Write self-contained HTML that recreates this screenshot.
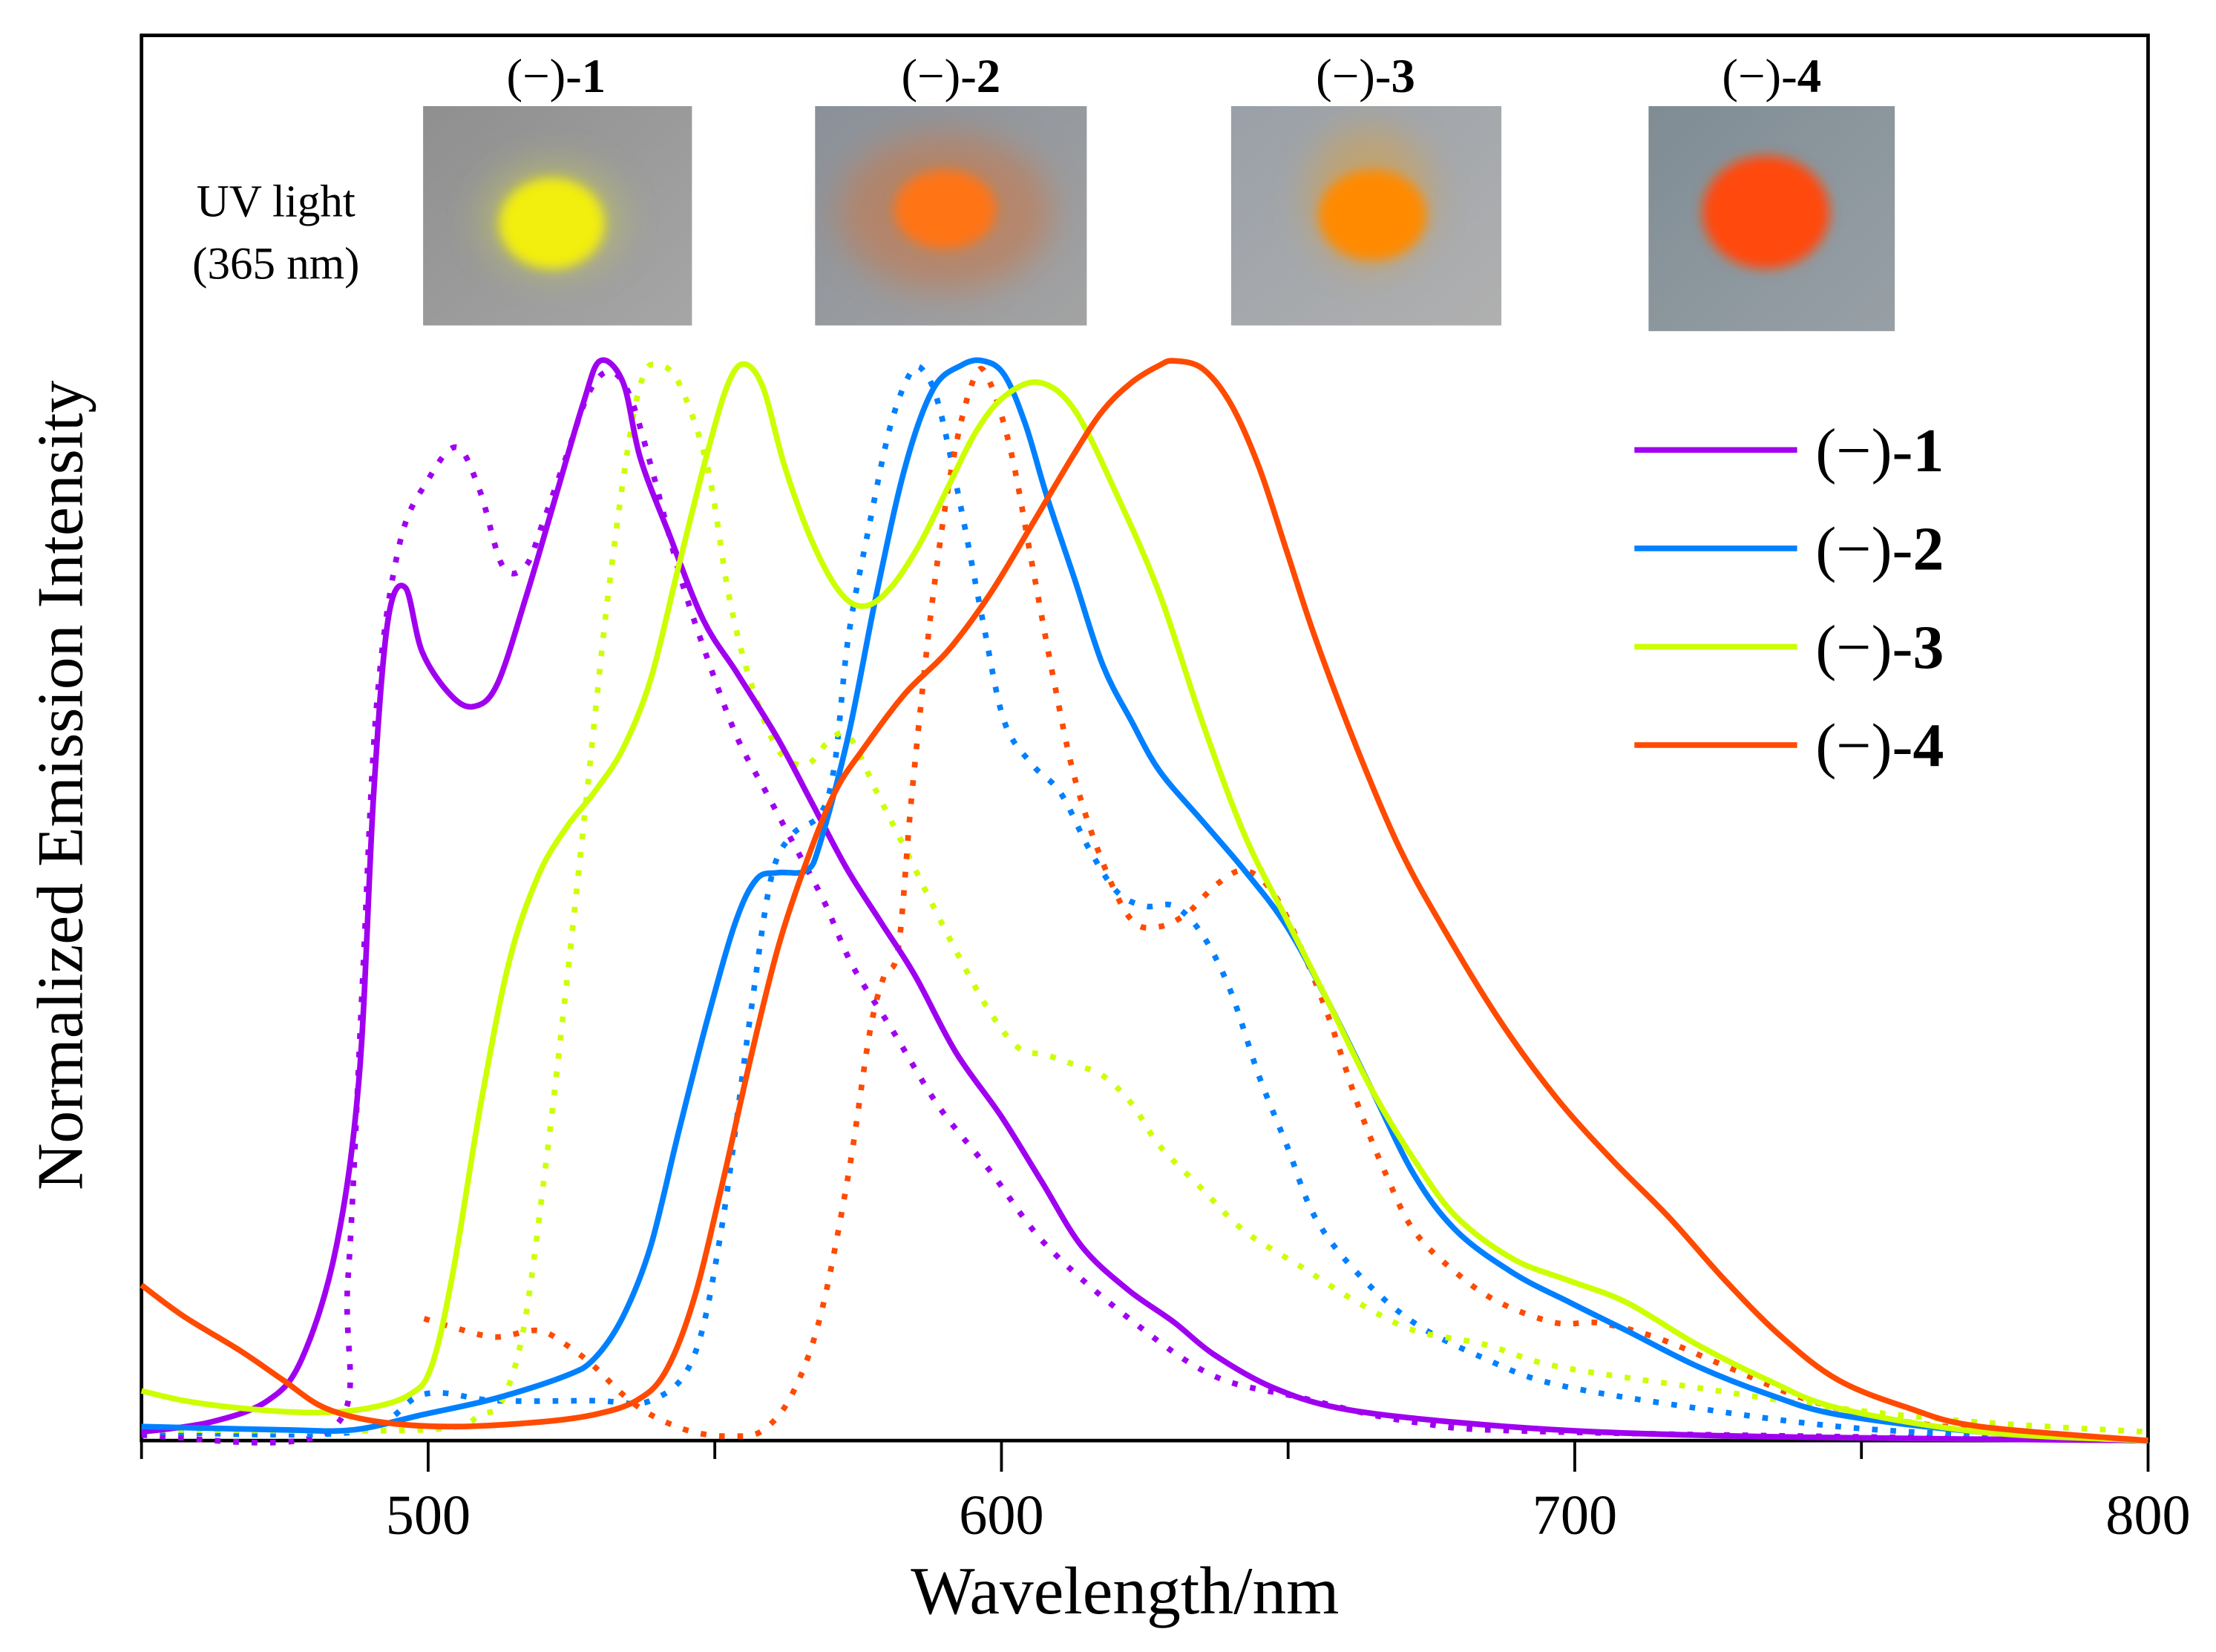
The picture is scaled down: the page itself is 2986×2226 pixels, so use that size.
<!DOCTYPE html>
<html><head><meta charset="utf-8"><style>
html,body{margin:0;padding:0;background:#fff;}
svg{display:block;}
text{font-family:"Liberation Serif",serif;fill:#000;}
</style></head><body>
<svg id="chart" width="2986" height="2226" viewBox="0 0 1566 1167.4" preserveAspectRatio="none" xmlns="http://www.w3.org/2000/svg">
<defs>
<linearGradient id="g1" x1="0" y1="0" x2="1" y2="1"><stop offset="0" stop-color="#8f8f8f"/><stop offset="1" stop-color="#a6a6a6"/></linearGradient>
<linearGradient id="g2" x1="0" y1="0" x2="1" y2="1"><stop offset="0" stop-color="#8a9099"/><stop offset="1" stop-color="#a3a3a3"/></linearGradient>
<linearGradient id="g3" x1="0" y1="0" x2="1" y2="1"><stop offset="0" stop-color="#9aa0a8"/><stop offset="1" stop-color="#b0b0b0"/></linearGradient>
<linearGradient id="g4" x1="0" y1="0" x2="1" y2="1"><stop offset="0" stop-color="#7f8c94"/><stop offset="1" stop-color="#98a0a6"/></linearGradient>
<filter id="blur" x="-50%" y="-50%" width="200%" height="200%"><feGaussianBlur stdDeviation="4"/></filter>
<filter id="blur2" x="-50%" y="-50%" width="200%" height="200%"><feGaussianBlur stdDeviation="12"/></filter>
</defs>
<rect x="100" y="25" width="1418" height="993" fill="none" stroke="#000" stroke-width="2.5"/>
<g id="ticks"></g>
<g id="series"></g>
<text x="795" y="1140" font-size="48" text-anchor="middle">Wavelength/nm</text>
<text transform="translate(58,555) rotate(-90)" font-size="46" text-anchor="middle">Normalized Emission Intensity</text>

<g>
<text x="195" y="153" font-size="32" text-anchor="middle">UV light</text>
<text x="195" y="197" font-size="32" text-anchor="middle">(365 nm)</text>
<g><rect x="299" y="75" width="190" height="155" fill="url(#g1)"/><ellipse cx="390" cy="155" rx="50" ry="40" fill="#c8cc55" opacity="0.5" filter="url(#blur2)"/><ellipse cx="390" cy="158" rx="37" ry="32" fill="#f2ee10" filter="url(#blur)"/></g>
<g><rect x="576" y="75" width="192" height="155" fill="url(#g2)"/><ellipse cx="668" cy="150" rx="75" ry="55" fill="#c87848" opacity="0.6" filter="url(#blur2)"/><ellipse cx="668" cy="148" rx="36" ry="28" fill="#ff7418" filter="url(#blur)"/></g>
<g><rect x="870" y="75" width="191" height="155" fill="url(#g3)"/><ellipse cx="968" cy="140" rx="45" ry="50" fill="#d9a040" opacity="0.5" filter="url(#blur2)"/><ellipse cx="970" cy="152" rx="38" ry="32" fill="#ff8a00" filter="url(#blur)"/></g>
<g><rect x="1165" y="75" width="174" height="159" fill="url(#g4)"/><ellipse cx="1248" cy="150" rx="45" ry="40" fill="#ff4a10" filter="url(#blur)"/></g>
<text x="393" y="65" font-size="34" text-anchor="middle">(−)-<tspan font-weight="bold">1</tspan></text>
<text x="672" y="65" font-size="34" text-anchor="middle">(−)-<tspan font-weight="bold">2</tspan></text>
<text x="965" y="65" font-size="34" text-anchor="middle">(−)-<tspan font-weight="bold">3</tspan></text>
<text x="1252" y="65" font-size="34" text-anchor="middle">(−)-<tspan font-weight="bold">4</tspan></text>
</g>
<g id="legend"></g>
</svg>
<script>
const xTicks=[450,500,550,600,650,700,750,800];
const xLabels=["500","600","700","800"];
const xLabelVals=[500,600,700,800];
const seriesNames=["(−)-1","(−)-2","(−)-3","(−)-4"];
const seriesColors=["#a000f0","#0080ff","#ccff00","#ff4a00"];

const nm1s=[450,462,472,478,484,488,490.5,493,496,499,504,508,512,517,522,527,530,534,537,542,548,554,561,567,573,579,585,592,600,607,614,622,630,637,647,659,679,704,741,800];
const v1s=[0.008,0.017,0.037,0.076,0.18,0.34,0.6,0.76,0.79,0.73,0.69,0.68,0.7,0.78,0.87,0.96,1.0,0.98,0.91,0.84,0.76,0.71,0.65,0.59,0.53,0.48,0.43,0.36,0.3,0.24,0.18,0.14,0.11,0.08,0.05,0.03,0.017,0.008,0.003,0];
const nm1d=[450,483,486,488.5,491,495,500,505,509,513,517,520,524,528,531.5,535,539,544,549,554,559,564,569,574,581,589,598,608,623,637,652,672,697,800];
const v1d=[0.005,0.01,0.15,0.42,0.68,0.83,0.89,0.92,0.88,0.81,0.81,0.85,0.91,0.97,0.99,0.97,0.9,0.8,0.72,0.65,0.6,0.55,0.5,0.44,0.38,0.31,0.25,0.18,0.11,0.06,0.04,0.017,0.008,0];

const nm2s=[450,474.7,487,499,511.7,524,529,534,538.8,543.7,548.7,553.6,557.3,561,566,568.4,573.3,578.2,583.2,588.1,593,596.8,600.5,604.2,607.9,612.8,617.7,622.7,627.6,635,642.4,649.8,657.2,664.6,672,679.4,689.3,699.1,709,721.3,733.7,746,770.7,800];
const v2s=[0.013,0.01,0.01,0.024,0.039,0.06,0.076,0.115,0.18,0.286,0.39,0.48,0.52,0.526,0.528,0.554,0.653,0.784,0.902,0.974,0.996,1,0.987,0.941,0.875,0.797,0.718,0.666,0.62,0.574,0.528,0.476,0.404,0.325,0.246,0.194,0.155,0.128,0.102,0.069,0.043,0.024,0.008,0];
const nm2d=[450,487,499.3,511.7,529,538.8,546.2,551.1,556.1,559.8,563.5,568.4,570.9,573.3,577,580.7,584.4,586.9,589.3,593,596.8,600.5,605.4,610.3,615.3,620.2,625.1,630.1,635,639.9,644.9,649.8,654.7,662.1,672,684.3,696.7,721.3,746,770.7,800];
const v2d=[0.008,0.008,0.043,0.037,0.037,0.037,0.076,0.194,0.39,0.52,0.561,0.58,0.626,0.744,0.849,0.941,0.991,0.987,0.954,0.862,0.758,0.666,0.626,0.6,0.548,0.508,0.495,0.495,0.469,0.417,0.338,0.273,0.207,0.155,0.109,0.076,0.052,0.03,0.013,0.005,0];

const nm3s=[450,457.4,467.3,479.6,489.5,496.9,500.6,504.3,509.2,514.1,519.1,524,528.9,533.9,538.8,543.7,548.7,552.4,555.3,558.5,562.2,567.2,572.1,576.3,580.7,585.7,590.6,595.5,600.5,606.6,612.8,620.2,627.6,635,642.4,649.8,657.2,664.6,672,679.4,689.3,699.1,709,721.3,733.7,746,770.7,800];
const v3s=[0.046,0.037,0.03,0.026,0.03,0.043,0.069,0.155,0.312,0.443,0.522,0.567,0.6,0.64,0.705,0.81,0.915,0.98,0.997,0.974,0.902,0.83,0.784,0.773,0.79,0.83,0.882,0.934,0.967,0.98,0.954,0.875,0.784,0.666,0.561,0.482,0.404,0.325,0.26,0.207,0.168,0.148,0.128,0.089,0.056,0.03,0.008,0];
const nm3d=[450,499.3,509.2,512.9,516.6,520.3,524,527.7,531.4,535.1,537.6,540,543.7,548.7,552.4,556.1,561,565.9,569.6,573.3,578.3,583.2,588.1,593.1,598,602.9,607.9,612.8,617.7,622.7,627.6,635,642.4,652.3,662.1,672,684.3,696.7,721.3,746,770.7,800];
const v3d=[0.01,0.01,0.024,0.037,0.102,0.246,0.416,0.6,0.784,0.928,0.987,0.996,0.98,0.902,0.784,0.705,0.64,0.626,0.646,0.653,0.6,0.548,0.495,0.443,0.397,0.364,0.357,0.348,0.338,0.312,0.273,0.233,0.194,0.161,0.128,0.102,0.089,0.069,0.049,0.03,0.017,0.008,0];

const nm4s=[450,457.4,467.3,474.7,482.1,491.9,504.3,519.1,528.9,536.3,541.3,546.2,551.1,556.1,561,565.9,570.9,575.8,583.2,590.6,598,605.4,612.8,617.7,622.7,627.6,630.1,635,639.9,644.9,649.8,654.7,662.1,669.5,676.9,686.8,696.7,706.5,716.4,726.3,736.1,746,758.3,770.7,800];
const v4s=[0.144,0.115,0.083,0.056,0.03,0.017,0.013,0.017,0.024,0.037,0.063,0.128,0.233,0.351,0.456,0.535,0.6,0.64,0.692,0.731,0.784,0.849,0.915,0.954,0.98,0.996,1,0.993,0.961,0.902,0.823,0.744,0.64,0.548,0.476,0.39,0.318,0.26,0.207,0.148,0.096,0.056,0.03,0.013,0];
const nm4d=[499.3,504.3,511.7,519.1,524,528.9,533.9,538.8,546.2,553.6,558.5,563.5,568.4,573.3,577,579.5,582,584.4,588.1,591.8,595.5,598,601.7,605.4,609.1,612.8,617.7,622.7,627.6,632.5,637.5,642.4,647.3,652.3,657.2,662.1,667.1,672,679.4,686.8,696.7,704.1,713.9,726.3,741.1,758.3,783,800];
const v4d=[0.113,0.105,0.096,0.102,0.089,0.069,0.043,0.024,0.008,0.004,0.01,0.043,0.115,0.246,0.377,0.43,0.456,0.6,0.784,0.915,0.987,0.98,0.915,0.81,0.705,0.613,0.535,0.482,0.476,0.489,0.515,0.528,0.508,0.456,0.39,0.312,0.246,0.194,0.155,0.128,0.109,0.109,0.096,0.069,0.037,0.017,0.005,0];

const X0=450,X1=800,PX0=100,PX1=1518,PY0=1018,PY1=255;
function xs(v){return PX0+(v-X0)/(X1-X0)*(PX1-PX0);}
function ys(v){return PY0-v*(PY0-PY1);}
const NS="http://www.w3.org/2000/svg";
const tg=document.getElementById('ticks');
xTicks.forEach(t=>{
  const l=document.createElementNS(NS,'line');
  const major=(t%100===0);
  l.setAttribute('x1',xs(t));l.setAttribute('x2',xs(t));
  l.setAttribute('y1',PY0);l.setAttribute('y2',PY0+(major?22:13));
  l.setAttribute('stroke','#000');l.setAttribute('stroke-width','2');
  
  
  tg.appendChild(l);
});
xLabels.forEach((s,i)=>{
  const t=document.createElementNS(NS,'text');
  t.setAttribute('x',xs(xLabelVals[i]));t.setAttribute('y',1084);
  t.setAttribute('font-size','40');t.setAttribute('text-anchor','middle');
  t.textContent=s;
  
  
  tg.appendChild(t);
});
const sg=document.getElementById('series');
function drawLine(nm,v,color,dotted,name){
  const P=nm.map((w,i)=>[xs(w),ys(v[i])]);
  let d='M'+P[0][0].toFixed(1)+','+P[0][1].toFixed(1);
  for(let i=0;i<P.length-1;i++){
    const p0=P[i>0?i-1:i],p1=P[i],p2=P[i+1],p3=P[i+2<P.length?i+2:i+1];
    const c1=[p1[0]+(p2[0]-p0[0])/6,p1[1]+(p2[1]-p0[1])/6];
    const c2=[p2[0]-(p3[0]-p1[0])/6,p2[1]-(p3[1]-p1[1])/6];
    d+='C'+c1[0].toFixed(1)+','+c1[1].toFixed(1)+' '+c2[0].toFixed(1)+','+c2[1].toFixed(1)+' '+p2[0].toFixed(1)+','+p2[1].toFixed(1);
  }
  const p=document.createElementNS(NS,'path');
  p.setAttribute('d',d);p.setAttribute('fill','none');p.setAttribute('stroke',color);
  p.setAttribute('stroke-width','4');p.setAttribute('stroke-linejoin','round');
  if(dotted){p.setAttribute('stroke-dasharray','4 9');}
  
  
  sg.appendChild(p);
}
drawLine(nm1d,v1d,seriesColors[0],true,'series-1-dotted');
drawLine(nm2d,v2d,seriesColors[1],true,'series-2-dotted');
drawLine(nm3d,v3d,seriesColors[2],true,'series-3-dotted');
drawLine(nm4d,v4d,seriesColors[3],true,'series-4-dotted');
drawLine(nm1s,v1s,seriesColors[0],false,'series-1-line');
drawLine(nm2s,v2s,seriesColors[1],false,'series-2-line');
drawLine(nm3s,v3s,seriesColors[2],false,'series-3-line');
drawLine(nm4s,v4s,seriesColors[3],false,'series-4-line');
const lg=document.getElementById('legend');
seriesNames.forEach((n,i)=>{
  const y=318+i*69.5;
  const l=document.createElementNS(NS,'line');
  l.setAttribute('x1',1155);l.setAttribute('x2',1270);l.setAttribute('y1',y);l.setAttribute('y2',y);
  l.setAttribute('stroke',seriesColors[i]);l.setAttribute('stroke-width','4');
  
  
  lg.appendChild(l);
  const t=document.createElementNS(NS,'text');
  t.setAttribute('x',1283);t.setAttribute('y',y+15);t.setAttribute('font-size','44');
  t.innerHTML=n.slice(0,4)+'<tspan font-weight="bold">'+n.slice(4)+'</tspan>';
  
  
  lg.appendChild(t);
});
</script>
</body></html>
